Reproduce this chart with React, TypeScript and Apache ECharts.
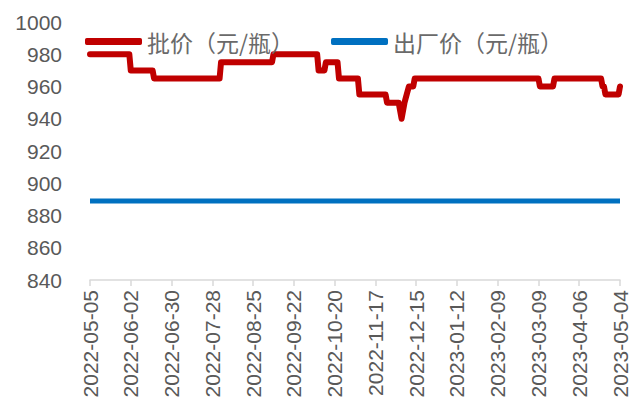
import React, { useEffect, useRef } from "react";
import * as echarts from "echarts";

// Wholesale price (批价) observations: dates and values (元/瓶)
const wholesaleDates = [
  "2022-05-05", "2022-06-01", "2022-06-02", "2022-06-17", "2022-06-18",
  "2022-08-02", "2022-08-03", "2022-09-07", "2022-09-08", "2022-10-08",
  "2022-10-09", "2022-10-13", "2022-10-14", "2022-10-22", "2022-10-23",
  "2022-11-05", "2022-11-06", "2022-11-24", "2022-11-25", "2022-12-03",
  "2022-12-05", "2022-12-07", "2022-12-10", "2022-12-13", "2022-12-14",
  "2023-03-09", "2023-03-10", "2023-03-19", "2023-03-20", "2023-04-21",
  "2023-04-22", "2023-04-23", "2023-04-24", "2023-05-03", "2023-05-04",
];
const wholesaleValues = [
  980, 980, 970, 970, 965,
  965, 975, 975, 980, 980,
  970, 970, 975, 975, 965,
  965, 955, 955, 950, 950,
  940, 950, 960, 960, 965,
  965, 960, 960, 965, 965,
  960, 960, 955, 955, 960,
];

// Ex-factory price (出厂价) observations
const factoryDates = ["2022-05-05", "2023-05-04"];
const factoryValues = [889, 889];

const startDate = "2022-05-05";
const endDate = "2023-05-04";
const yTicks = { min: 840, max: 1000, interval: 20 };
const xLabelStepDays = 28;

const DAY = 86400000;
const toUTC = (s: string) => {
  const [y, m, d] = s.split("-").map(Number);
  return Date.UTC(y, m - 1, d);
};
const dayIndex = (s: string) => Math.round((toUTC(s) - toUTC(startDate)) / DAY);
const fmtIndex = (v: number) => {
  const d = new Date(toUTC(startDate) + v * DAY);
  const p = (n: number) => (n < 10 ? "0" + n : "" + n);
  return d.getUTCFullYear() + "-" + p(d.getUTCMonth() + 1) + "-" + p(d.getUTCDate());
};

const FONT = "'Liberation Sans', 'Noto Sans CJK SC', sans-serif";

export default function App() {
  const ref = useRef<HTMLDivElement>(null);
  useEffect(() => {
    if (!ref.current) return;
    const chart = echarts.init(ref.current, undefined, { renderer: "svg" });
    const wholesale = wholesaleDates.map((d, i) => [dayIndex(d), wholesaleValues[i]]);
    const factory = factoryDates.map((d, i) => [dayIndex(d), factoryValues[i]]);
    chart.setOption({
      animation: false,
      backgroundColor: "#ffffff",
      textStyle: { fontFamily: FONT },
      grid: { left: 90, right: 19, top: 22, bottom: 128, containLabel: false },
      legend: {
        left: 80,
        top: 25,
        itemWidth: 57,
        itemHeight: 7,
        itemGap: 37,
        icon: "roundRect",
        textStyle: { fontSize: 23, color: "#6a6a6a", fontFamily: "'Noto Sans CJK SC', sans-serif" },
        data: ["批价（元/瓶）", "出厂价（元/瓶）"],
      },
      xAxis: {
        type: "value",
        min: 0,
        max: dayIndex(endDate),
        interval: xLabelStepDays,
        axisLine: { show: true, lineStyle: { color: "#d9d9d9", width: 1.5 } },
        axisTick: { show: true, length: 6, lineStyle: { color: "#d9d9d9", width: 1.5 } },
        splitLine: { show: false },
        axisLabel: {
          rotate: 90,
          margin: 10,
          fontSize: 21,
          color: "#595959",
          fontFamily: FONT,
          formatter: (v: number) => fmtIndex(v),
        },
      },
      yAxis: {
        type: "value",
        min: yTicks.min,
        max: yTicks.max,
        interval: yTicks.interval,
        axisLine: { show: false },
        axisTick: { show: false },
        splitLine: { show: false },
        axisLabel: {
          fontSize: 21,
          color: "#595959",
          margin: 28,
          fontFamily: FONT,
          formatter: (v: number) => String(v),
        },
      },
      series: [
        {
          name: "批价（元/瓶）",
          type: "line",
          data: wholesale,
          showSymbol: false,
          symbol: "none",
          color: "#C00000",
          lineStyle: { color: "#C00000", width: 6, join: "round", cap: "round" },
          z: 3,
        },
        {
          name: "出厂价（元/瓶）",
          type: "line",
          data: factory,
          showSymbol: false,
          symbol: "none",
          color: "#0070C0",
          lineStyle: { color: "#0070C0", width: 5 },
          z: 2,
        },
      ],
    });
    return () => chart.dispose();
  }, []);
  return (
    <div
      ref={ref}
      style={{ position: "fixed", left: 0, top: 0, width: 639, height: 408, background: "#fff" }}
    />
  );
}
